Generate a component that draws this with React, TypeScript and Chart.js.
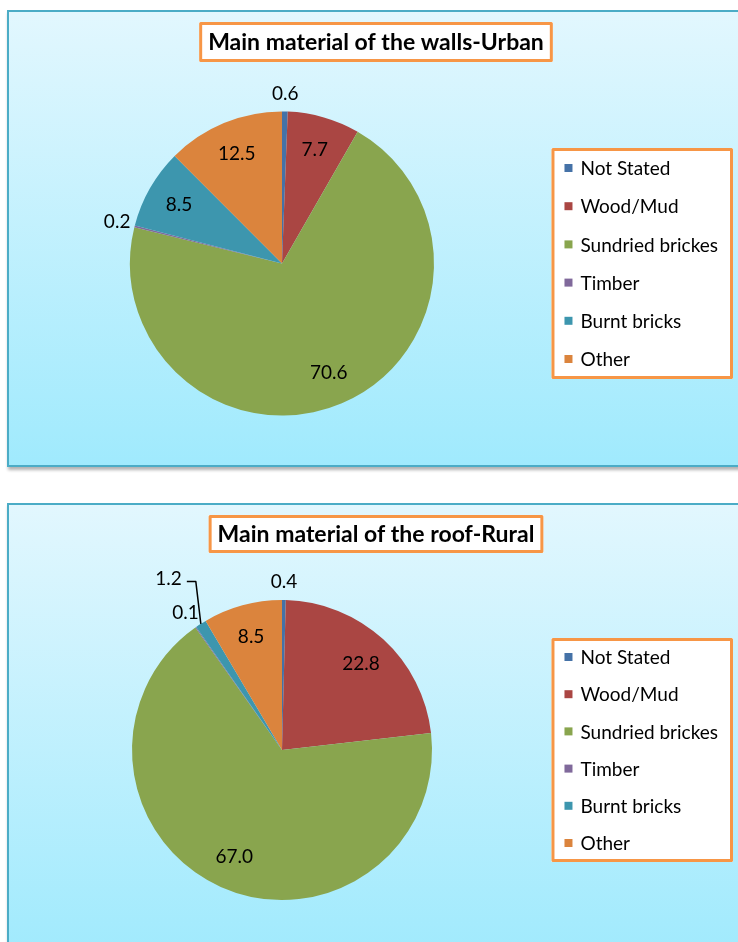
import React, { useEffect, useRef } from 'react';
import { Chart, registerables } from 'chart.js';

Chart.register(...registerables);

const categories = ['Not Stated', 'Wood/Mud', 'Sundried brickes', 'Timber', 'Burnt bricks', 'Other'];
const urbanWalls = [0.6, 7.7, 70.6, 0.2, 8.5, 12.5];
const ruralRoof = [0.4, 22.8, 67.0, 0.1, 1.2, 8.5];
const sliceColors = ['#4572A7', '#AA4643', '#89A54E', '#80699B', '#3D96AE', '#DB843D'];
const chartTitles = ['Main material of the walls-Urban', 'Main material of the roof-Rural'];

const FONT = 'Lato, "Open Sans", sans-serif';

type DecorOpts = {
  title: string;
  titleSize: number;
  titleY: number;
  titleBoxH: number;
  titlePadX: number;
  labelSize: number;
  legendSize: number;
  legendSpacing: number;
  legendPadY: number;
};

function strokeBox(ctx: CanvasRenderingContext2D, x: number, y: number, w: number, h: number) {
  ctx.fillStyle = '#ffffff';
  ctx.fillRect(x, y, w, h);
  ctx.strokeStyle = '#F79646';
  ctx.lineWidth = 3;
  ctx.lineJoin = 'round';
  ctx.strokeRect(x + 1.5, y + 1.5, w - 3, h - 3);
}

const decorPlugin = {
  id: 'decor',
  afterDatasetsDraw(chart: any, _args: any, opts: DecorOpts) {
    const ctx: CanvasRenderingContext2D = chart.ctx;
    const meta = chart.getDatasetMeta(0);
    const arcs = meta.data;
    const values: number[] = chart.data.datasets[0].data;
    const labels: string[] = chart.data.labels;
    const colors: string[] = chart.data.datasets[0].backgroundColor;
    ctx.save();

    // Title box
    ctx.font = `bold ${opts.titleSize}px ${FONT}`;
    const tw = ctx.measureText(opts.title).width;
    const tcx = chart.width / 2;
    const bw = tw + opts.titlePadX * 2;
    strokeBox(ctx, tcx - bw / 2, opts.titleY - opts.titleBoxH / 2, bw, opts.titleBoxH);
    ctx.fillStyle = '#000';
    ctx.textAlign = 'center';
    ctx.textBaseline = 'middle';
    ctx.fillText(opts.title, tcx, opts.titleY + 1);

    // Data labels
    ctx.font = `${opts.labelSize}px ${FONT}`;
    const placed: { x: number; y: number; w: number; h: number }[] = [];
    let pieCY = 0;
    arcs.forEach((arc: any, i: number) => {
      const p = arc.getProps(['startAngle', 'endAngle', 'outerRadius', 'x', 'y'], true);
      pieCY = p.y;
      const mid = (p.startAngle + p.endAngle) / 2;
      const frac = (p.endAngle - p.startAngle) / (Math.PI * 2);
      const text = Number(values[i]).toFixed(1);
      const w = ctx.measureText(text).width;
      const h = opts.labelSize;
      ctx.fillStyle = '#000';
      ctx.strokeStyle = '#000';
      if (frac > 0.03) {
        const r = p.outerRadius * 0.78;
        ctx.fillText(text, p.x + Math.cos(mid) * r, p.y + Math.sin(mid) * r);
        return;
      }
      const R = p.outerRadius;
      let lx = p.x + Math.cos(mid) * (R + 18);
      let ly = p.y + Math.sin(mid) * (R + 18);
      const hit = placed.find(
        (b) => Math.abs(b.x - lx) < (b.w + w) / 2 + 2 && Math.abs(b.y - ly) < (b.h + h) / 2 + 2
      );
      if (hit) {
        const side = Math.cos(mid) < 0 ? -1 : 1;
        const ax = p.x + Math.cos(mid) * R;
        const ay = p.y + Math.sin(mid) * R;
        ly = hit.y - (h + 15);
        const ex = ax + side * 5;
        const ey = ly + 3;
        lx = ex + side * (14 + w / 2);
        ctx.lineWidth = 1.5;
        ctx.beginPath();
        ctx.moveTo(ax, ay);
        ctx.lineTo(ex, ey);
        ctx.lineTo(ex + side * 9, ey);
        ctx.stroke();
      }
      placed.push({ x: lx, y: ly, w, h });
      ctx.fillText(text, lx, ly);
    });

    // Legend
    ctx.font = `${opts.legendSize}px ${FONT}`;
    let maxW = 0;
    labels.forEach((l) => (maxW = Math.max(maxW, ctx.measureText(l).width)));
    const boxW = 13 + 8 + 8 + maxW + 15;
    const boxH = opts.legendPadY * 2 + (labels.length - 1) * opts.legendSpacing;
    const right = chart.width - 10;
    const left = right - boxW;
    const top = pieCY - boxH / 2;
    strokeBox(ctx, left, top, boxW, boxH);
    ctx.textAlign = 'left';
    ctx.textBaseline = 'middle';
    labels.forEach((l, i) => {
      const cy = top + opts.legendPadY + i * opts.legendSpacing;
      ctx.fillStyle = colors[i];
      ctx.fillRect(left + 13, cy - 4, 8, 8);
      ctx.fillStyle = '#000';
      ctx.fillText(l, left + 29, cy + 1);
    });
    ctx.restore();
  },
};

type PanelProps = {
  top: number;
  values: number[];
  title: string;
  radius: number;
  padTop: number;
  padBottom: number;
  titleY: number;
  titleBoxH: number;
  legendSpacing: number;
  legendPadY: number;
};

const W = 734;
const H = 453;

function PiePanel(props: PanelProps) {
  const ref = useRef<HTMLCanvasElement | null>(null);
  useEffect(() => {
    if (!ref.current) return;
    const chart = new Chart(ref.current, {
      type: 'pie',
      data: {
        labels: categories,
        datasets: [
          {
            data: props.values,
            backgroundColor: sliceColors,
            borderWidth: 0,
          },
        ],
      },
      options: {
        responsive: false,
        animation: false,
        radius: props.radius,
        layout: { padding: { left: 0, right: 188, top: props.padTop, bottom: props.padBottom } },
        plugins: {
          legend: { display: false },
          title: { display: false },
          tooltip: { enabled: false },
          decor: {
            title: props.title,
            titleSize: 23,
            titleY: props.titleY,
            titleBoxH: props.titleBoxH,
            titlePadX: 9,
            labelSize: 19,
            legendSize: 19,
            legendSpacing: props.legendSpacing,
            legendPadY: props.legendPadY,
          },
        },
      } as any,
      plugins: [decorPlugin as any],
    });
    return () => chart.destroy();
  }, []);
  return (
    <div
      style={{
        position: 'absolute',
        left: 7,
        top: props.top,
        width: W,
        height: H,
        border: '2px solid #4BACC6',
        background: 'linear-gradient(to bottom, #e2f7fe 0%, #a0eafd 100%)',
        boxShadow: '1px 3px 3px rgba(0,0,0,0.3)',
      }}
    >
      <canvas ref={ref} width={W} height={H} style={{ display: 'block', width: W, height: H }} />
    </div>
  );
}

export default function App() {
  return (
    <div
      style={{
        position: 'absolute',
        left: 0,
        top: 0,
        width: 738,
        height: 942,
        overflow: 'hidden',
        background: '#ffffff',
      }}
    >
      <PiePanel
        top={10}
        values={urbanWalls}
        title={chartTitles[0]}
        radius={152}
        padTop={52}
        padBottom={2}
        titleY={30}
        titleBoxH={40}
        legendSpacing={38.2}
        legendPadY={20}
      />
      <PiePanel
        top={503}
        values={ruralRoof}
        title={chartTitles[1]}
        radius={150}
        padTop={51}
        padBottom={14}
        titleY={29}
        titleBoxH={38}
        legendSpacing={37.2}
        legendPadY={19}
      />
    </div>
  );
}
